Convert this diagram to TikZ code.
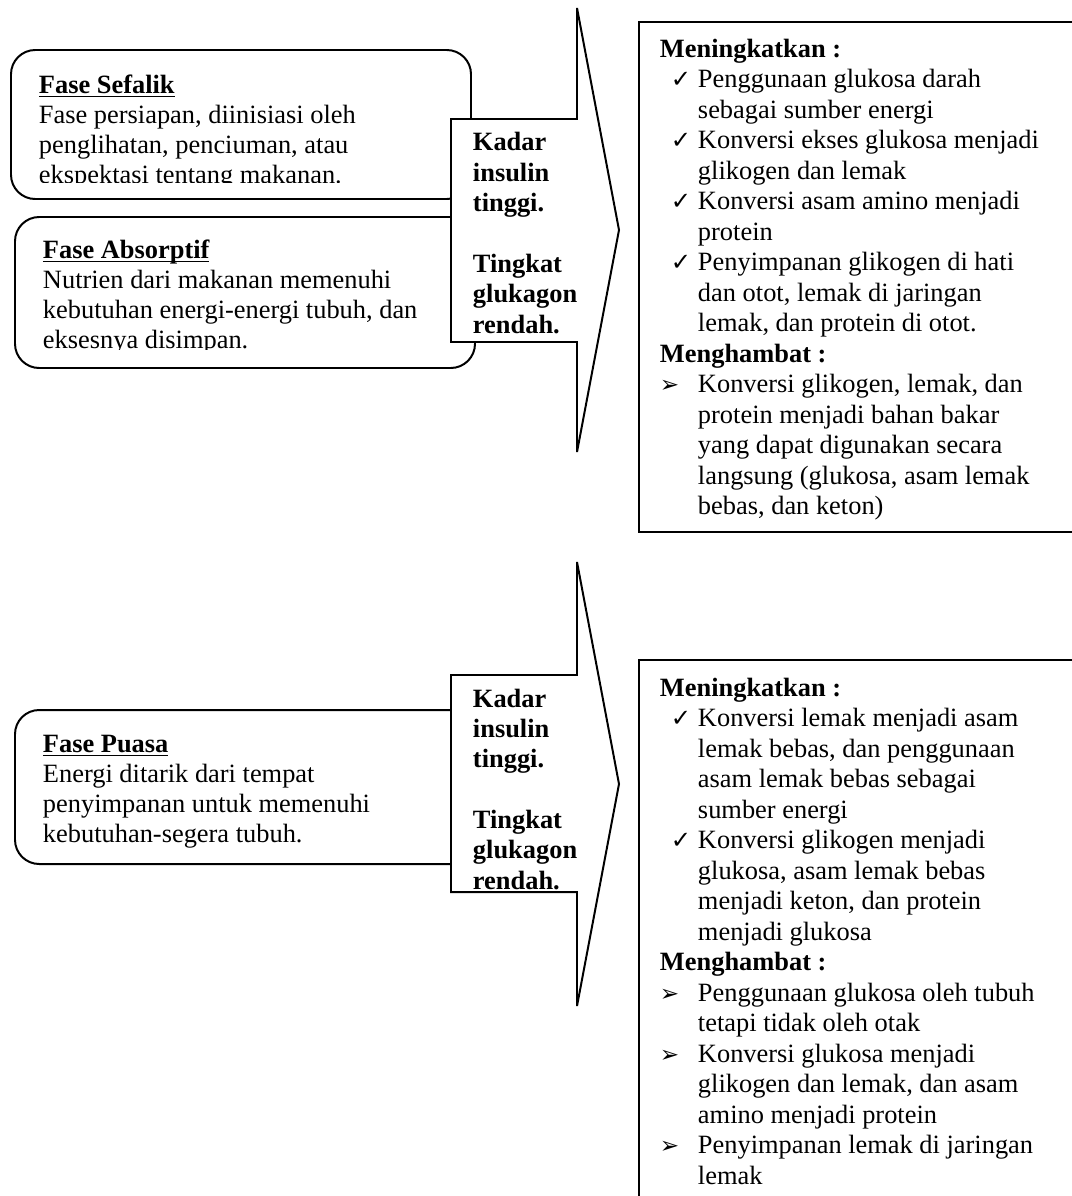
\documentclass[tikz,border=0pt]{standalone}
\usepackage{fontspec}
\setmainfont{Liberation Serif}
\newfontfamily\dingfont{DejaVu Sans}
\newcommand{\tickmark}{{\dingfont\fontsize{11}{12}\selectfont ✓}}
\newcommand{\pointmark}{{\dingfont\fontsize{10.5}{12}\selectfont ➢}}
\newcommand{\phasetitle}[1]{\underline{\smash{#1}}}

\begin{document}
\begin{tikzpicture}[x=0.4545pt,y=-0.4545pt,line width=0.9pt,
    phase/.style={draw,fill=white,rounded corners=11pt},
    signal/.style={draw,fill=white},
    effect/.style={draw},
    txt/.style={anchor=base west,inner sep=0pt,font=\fontsize{12}{13.86}\selectfont},
    bold/.style={txt,font=\fontsize{12}{13.86}\selectfont\bfseries}]
  \clip (0,0) rectangle (1072,1196);
  \fill[white] (0,0) rectangle (1072,1196);

  % --- fed state ---
  \draw[phase] (11,50) rectangle (471,199);
  \draw[phase] (15,217) rectangle (475,368);
  \draw[signal] (451,119) -- (577,119) -- (577,8) -- (619,230) -- (577,452)
    -- (577,342) -- (451,342) -- cycle;
  \draw[effect] (639,22) rectangle (1090,532);

  \begin{scope}
    \clip (30,60) rectangle (450,182);
    \node[bold] (sefalik) at (38,93) {\phasetitle{Fase Sefalik}};
    \foreach \i/\txt in {1/{Fase persiapan, diinisiasi oleh},
        2/{penglihatan, penciuman, atau},
        3/{ekspektasi tentang makanan.}}
      \node[txt] (sefalik-\i) at (38,93+30*\i) {\txt};
  \end{scope}
  \begin{scope}
    \clip (30,225) rectangle (450,349);
    \node[bold] (absorptif) at (42,258) {\phasetitle{Fase Absorptif}};
    \foreach \i/\txt in {1/{Nutrien dari makanan memenuhi},
        2/{kebutuhan energi-energi tubuh, dan},
        3/{eksesnya disimpan.}}
      \node[txt] (absorptif-\i) at (42,258+30*\i) {\txt};
  \end{scope}

  \foreach \i/\y/\txt in {1/150/Kadar,2/181/insulin,3/211/tinggi.,
      4/272/Tingkat,5/302/glukagon,6/333/rendah.}
    \node[bold] (fedsig-\i) at (472,\y) {\txt};

  \node[bold] (fedup) at (659,57) {Meningkatkan :};
  \foreach \i/\txt in {1/Penggunaan glukosa darah,2/sebagai sumber energi,
      3/Konversi ekses glukosa menjadi,4/glikogen dan lemak,
      5/Konversi asam amino menjadi,6/protein,
      7/Penyimpanan glikogen di hati,8/{dan otot, lemak di jaringan},
      9/{lemak, dan protein di otot.}}
    \node[txt] (fedup-\i) at (697,57+30.5*\i) {\txt};
  \foreach \i in {1,3,5,7}
    \node[txt] (fedtick-\i) at (670,57+30.5*\i) {\tickmark};
  \node[bold] (feddown) at (659,57+30.5*10) {Menghambat :};
  \foreach \i/\txt in {11/{Konversi glikogen, lemak, dan},
      12/protein menjadi bahan bakar,13/yang dapat digunakan secara,
      14/{langsung (glukosa, asam lemak},15/{bebas, dan keton)}}
    \node[txt] (feddown-\i) at (697,57+30.5*\i) {\txt};
  \node[txt] (fedpoint-11) at (659,57+30.5*11) {\pointmark};

  % --- fasting state ---
  \draw[phase] (15,710) rectangle (475,864);
  \draw[signal] (451,675) -- (577,675) -- (577,562) -- (619,784) -- (577,1006)
    -- (577,892) -- (451,892) -- cycle;
  \draw[effect] (639,660) rectangle (1090,1220);

  \node[bold] (puasa) at (42,752) {\phasetitle{Fase Puasa}};
  \foreach \i/\txt in {1/{Energi ditarik dari tempat},
      2/{penyimpanan untuk memenuhi},
      3/{kebutuhan-segera tubuh.}}
    \node[txt] (puasa-\i) at (42,752+30*\i) {\txt};

  \begin{scope}
    \clip (455,680) rectangle (576,891);
    \foreach \i/\y/\txt in {1/707/Kadar,2/737/insulin,3/767/tinggi.,
        4/828/Tingkat,5/858/glukagon,6/889/rendah.}
      \node[bold] (fastsig-\i) at (472,\y) {\txt};
  \end{scope}

  \node[bold] (fastup) at (659,696) {Meningkatkan :};
  \foreach \i/\txt in {1/Konversi lemak menjadi asam,
      2/{lemak bebas, dan penggunaan},3/asam lemak bebas sebagai,
      4/sumber energi,5/Konversi glikogen menjadi,
      6/{glukosa, asam lemak bebas},7/{menjadi keton, dan protein},
      8/menjadi glukosa}
    \node[txt] (fastup-\i) at (697,696+30.5*\i) {\txt};
  \foreach \i in {1,5}
    \node[txt] (fasttick-\i) at (670,696+30.5*\i) {\tickmark};
  \node[bold] (fastdown) at (659,696+30.5*9) {Menghambat :};
  \foreach \i/\txt in {10/Penggunaan glukosa oleh tubuh,
      11/tetapi tidak oleh otak,12/Konversi glukosa menjadi,
      13/{glikogen dan lemak, dan asam},14/amino menjadi protein,
      15/Penyimpanan lemak di jaringan,16/lemak}
    \node[txt] (fastdown-\i) at (697,696+30.5*\i) {\txt};
  \foreach \i in {10,12,15}
    \node[txt] (fastpoint-\i) at (659,696+30.5*\i) {\pointmark};
\end{tikzpicture}
\end{document}
